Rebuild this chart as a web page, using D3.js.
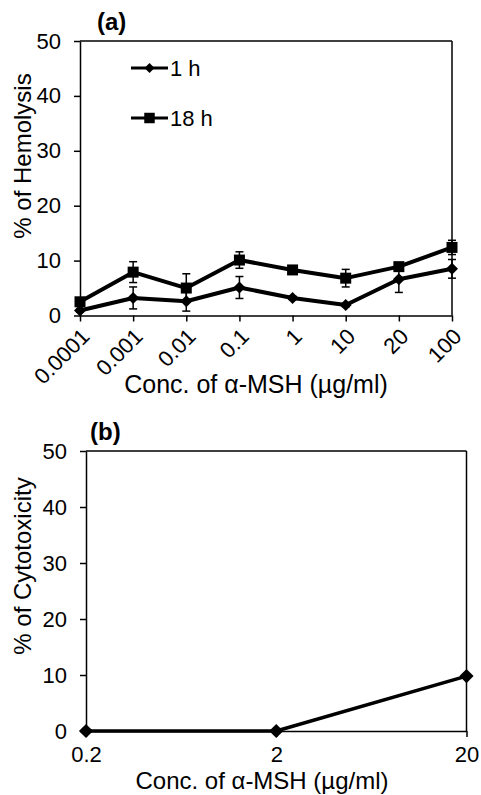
<!DOCTYPE html>
<html>
<head>
<meta charset="utf-8">
<script src="https://cdn.jsdelivr.net/npm/d3@7"></script>
<style>
  html, body { margin: 0; padding: 0; background: #fff; }
  svg text { font-family: "Liberation Sans", Arial, sans-serif; fill: #000; }
</style>
</head>
<body>
<svg id="chart" width="481" height="795"></svg>
<script>
// ---- Data (panel a: hemolysis) ----
const concA = ["0.0001", "0.001", "0.01", "0.1", "1", "10", "20", "100"];
const hemo1h = [0.9, 3.2, 2.6, 5.1, 3.2, 1.9, 6.6, 8.5];
const hemo1hErr = [0.3, 2.0, 1.8, 2.0, 0.3, 0.3, 2.4, 1.7];
const hemo18h = [2.5, 7.9, 5.0, 10.1, 8.3, 6.8, 8.9, 12.4];
const hemo18hErr = [0.4, 1.9, 2.6, 1.5, 0.4, 1.6, 0.5, 1.3];
const seriesNames = ["1 h", "18 h"];
const yTicks = [0, 10, 20, 30, 40, 50];

// ---- Data (panel b: cytotoxicity) ----
const concB = ["0.2", "2", "20"];
const cyto = [0, 0, 9.8];

const svg = d3.select("#chart");

function styleAxis(g) {
  g.select(".domain").attr("stroke", "#000").attr("stroke-width", 1.5);
  g.selectAll(".tick line").attr("stroke", "#000").attr("stroke-width", 1.5);
  g.selectAll(".tick text").attr("font-size", 22).attr("fill", "#000")
    .style("font-family", "'Liberation Sans', Arial, sans-serif");
}

function diamondPath(size) {
  return d3.symbol(d3.symbolSquare, size)();
}

// ================= Panel (a) =================
const xA = d3.scalePoint().domain(concA).range([80, 452]);
const yA = d3.scaleLinear().domain([0, 50]).range([315.5, 41]);

const gA = svg.append("g");

// frame top & right
gA.append("line").attr("x1", 80).attr("x2", 452).attr("y1", yA(50)).attr("y2", yA(50))
  .attr("stroke", "#000").attr("stroke-width", 1.5);
gA.append("line").attr("x1", 452).attr("x2", 452).attr("y1", yA(50)).attr("y2", yA(0))
  .attr("stroke", "#000").attr("stroke-width", 1.5);

const yAxisA = gA.append("g").attr("transform", "translate(80,0)")
  .call(d3.axisLeft(yA).tickValues(yTicks).tickSize(6).tickPadding(13).tickSizeOuter(0));
styleAxis(yAxisA);

const xAxisA = gA.append("g").attr("transform", `translate(0,${yA(0)})`)
  .call(d3.axisBottom(xA).tickSize(6).tickSizeOuter(0));
styleAxis(xAxisA);
xAxisA.selectAll(".tick text")
  .attr("x", 0).attr("y", 0).attr("dy", "0.35em")
  .attr("text-anchor", "end")
  .attr("transform", "translate(5,17) rotate(-45)");

// error bars
function errorBars(g, vals, errs) {
  const cap = 4;
  vals.forEach((v, i) => {
    const x = xA(concA[i]);
    const e = errs[i];
    g.append("line").attr("x1", x).attr("x2", x).attr("y1", yA(v - e)).attr("y2", yA(v + e))
      .attr("stroke", "#000").attr("stroke-width", 1.5);
    [v - e, v + e].forEach(t => {
      g.append("line").attr("x1", x - cap).attr("x2", x + cap).attr("y1", yA(t)).attr("y2", yA(t))
        .attr("stroke", "#000").attr("stroke-width", 1.5);
    });
  });
}
errorBars(gA, hemo1h, hemo1hErr);
errorBars(gA, hemo18h, hemo18hErr);

const lineA = d3.line().x((d, i) => xA(concA[i])).y(d => yA(d));
[hemo1h, hemo18h].forEach(s => {
  gA.append("path").attr("d", lineA(s)).attr("fill", "none").attr("stroke", "#000")
    .attr("stroke-width", 4).attr("stroke-linejoin", "round");
});
gA.selectAll(".m1").data(hemo1h).enter().append("path")
  .attr("d", diamondPath(72))
  .attr("transform", (d, i) => `translate(${xA(concA[i])},${yA(d)}) rotate(45)`)
  .attr("fill", "#000");
gA.selectAll(".m18").data(hemo18h).enter().append("path")
  .attr("d", d3.symbol(d3.symbolSquare, 121)())
  .attr("transform", (d, i) => `translate(${xA(concA[i])},${yA(d)})`)
  .attr("fill", "#000");

// legend
const legY = [68, 118];
seriesNames.forEach((n, i) => {
  gA.append("line").attr("x1", 131).attr("x2", 168).attr("y1", legY[i]).attr("y2", legY[i])
    .attr("stroke", "#000").attr("stroke-width", 3);
  if (i === 0) {
    gA.append("path").attr("d", diamondPath(50))
      .attr("transform", `translate(149.5,${legY[i]}) rotate(45)`).attr("fill", "#000");
  } else {
    gA.append("path").attr("d", d3.symbol(d3.symbolSquare, 110)())
      .attr("transform", `translate(149.5,${legY[i]})`).attr("fill", "#000");
  }
  gA.append("text").attr("x", 170).attr("y", legY[i]).attr("dy", "0.35em")
    .attr("font-size", 22).text(n);
});

gA.append("text").attr("x", 97).attr("y", 30).attr("font-size", 24)
  .attr("font-weight", "bold").text("(a)");
gA.append("text").attr("transform", "translate(31,156) rotate(-90)")
  .attr("text-anchor", "middle").attr("font-size", 24).text("% of Hemolysis");
gA.append("text").attr("x", 256).attr("y", 393).attr("text-anchor", "middle")
  .attr("font-size", 25).text("Conc. of α-MSH (µg/ml)");

// ================= Panel (b) =================
const xB = d3.scalePoint().domain(concB).range([86, 466.5]);
const yB = d3.scaleLinear().domain([0, 50]).range([731, 451]);
const gB = svg.append("g");

gB.append("line").attr("x1", 86).attr("x2", 466.5).attr("y1", yB(50)).attr("y2", yB(50))
  .attr("stroke", "#000").attr("stroke-width", 1.5);
gB.append("line").attr("x1", 466.5).attr("x2", 466.5).attr("y1", yB(50)).attr("y2", yB(0))
  .attr("stroke", "#000").attr("stroke-width", 1.5);

const yAxisB = gB.append("g").attr("transform", "translate(86,0)")
  .call(d3.axisLeft(yB).tickValues(yTicks).tickSize(6).tickPadding(13).tickSizeOuter(0));
styleAxis(yAxisB);
const xAxisB = gB.append("g").attr("transform", `translate(0,${yB(0)})`)
  .call(d3.axisBottom(xB).tickSize(6).tickPadding(9).tickSizeOuter(0));
styleAxis(xAxisB);

const lineB = d3.line().x((d, i) => xB(concB[i])).y(d => yB(d));
gB.append("path").attr("d", lineB(cyto)).attr("fill", "none").attr("stroke", "#000")
  .attr("stroke-width", 3.5).attr("stroke-linejoin", "round");
gB.selectAll(".mb").data(cyto).enter().append("path")
  .attr("d", diamondPath(100))
  .attr("transform", (d, i) => `translate(${xB(concB[i])},${yB(d)}) rotate(45)`)
  .attr("fill", "#000");

gB.append("text").attr("x", 90).attr("y", 440).attr("font-size", 24)
  .attr("font-weight", "bold").text("(b)");
gB.append("text").attr("transform", "translate(31,566) rotate(-90)")
  .attr("text-anchor", "middle").attr("font-size", 24).text("% of Cytotoxicity");
gB.append("text").attr("x", 262).attr("y", 789).attr("text-anchor", "middle")
  .attr("font-size", 24).text("Conc. of α-MSH (µg/ml)");
</script>
</body>
</html>
